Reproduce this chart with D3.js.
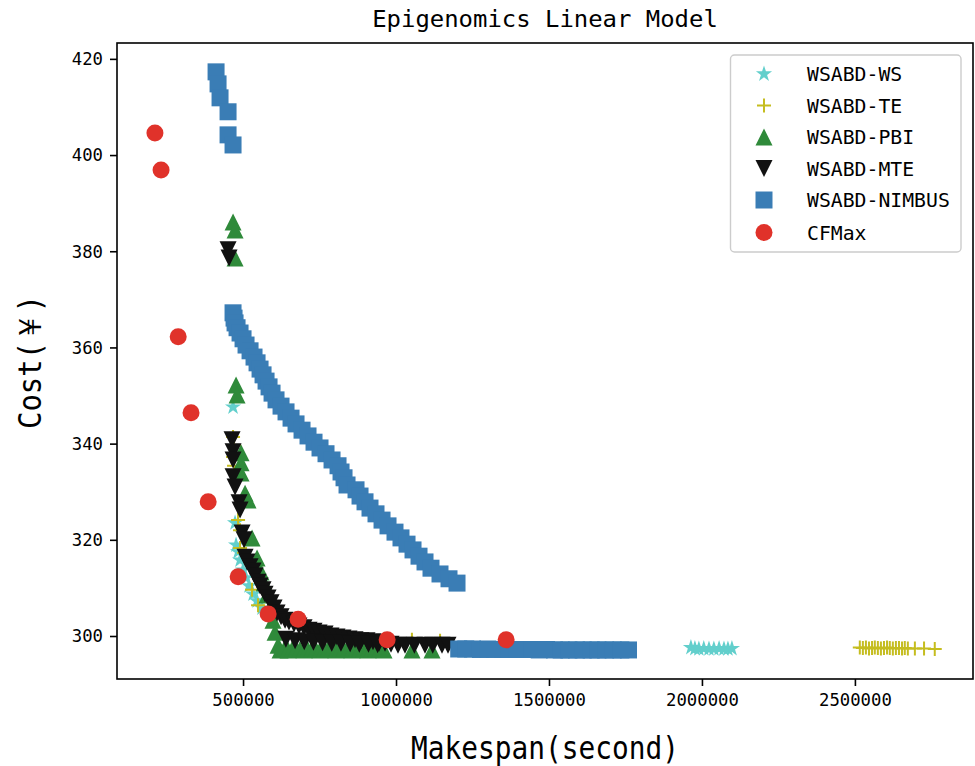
<!DOCTYPE html>
<html>
<head>
<meta charset="utf-8">
<script src="https://cdn.jsdelivr.net/npm/d3@7"></script>
<style>
  body { margin: 0; background: #fff; }
  svg { display: block; }
  text { font-family: "DejaVu Sans Mono", monospace; fill: #000; }
</style>
</head>
<body>
<div id="chart"></div>
<script>
// ---- data ----
const xTicks = [500000, 1000000, 1500000, 2000000, 2500000];
const yTicks = [300, 320, 340, 360, 380, 400, 420];

const wsMakespan = [467300, 473900, 477100, 483700, 490200, 500000, 509800, 519600, 532700, 545800, 562100,
    1964000, 1977000, 1990000, 2006000, 2023000, 2039000, 2056000, 2072000, 2085000, 2098000];
const wsCost = [347.6, 323.5, 318.9, 317.5, 315.8, 313.7, 312.1, 310.4, 308.7, 307.3, 305.8,
    297.6, 297.4, 297.3, 297.4, 297.3, 297.3, 297.4, 297.3, 297.3, 297.4];

const teMakespan = [467300, 470600, 467300, 470600, 483700, 490200, 490200, 503300, 529400, 549000, 637300, 1052000, 1144000,
    2516000, 2526000, 2536000, 2546000, 2556000, 2565000, 2575000, 2585000, 2595000, 2605000, 2614000,
    2624000, 2634000, 2644000, 2654000, 2663000, 2673000, 2696000, 2726000, 2761000];
const teCost = [341.4, 339.7, 337.2, 335.4, 324.1, 322.0, 318.3, 317.3, 309.6, 306.4, 299.6, 299.2, 299.0,
    297.6, 297.5, 297.6, 297.4, 297.5, 297.6, 297.5, 297.4, 297.5, 297.6, 297.5,
    297.4, 297.5, 297.5, 297.4, 297.5, 297.4, 297.4, 297.4, 297.3];

const pbiMakespan = [467300, 473900, 473900, 477100, 480400, 493500, 493500, 493500, 506500, 516300, 529400, 545800,
    558800, 568600, 578400, 588200, 598000, 604600, 614400, 620900, 634000, 647100, 660000, 673200, 686000,
    699400, 712000, 725500, 738000, 751600, 765000, 777800, 791000, 803900, 817000, 830100, 843000, 856200,
    869000, 882400, 895000, 908500, 921000, 934600, 947000, 960800, 1052300, 1117700];
const pbiCost = [386.1, 384.4, 378.6, 352.2, 350.1, 338.1, 336.0, 333.9, 329.7, 328.3, 320.4, 316.2,
    313.3, 311.0, 308.5, 305.8, 303.3, 300.8, 298.1, 297.1, 297.2, 297.1, 297.2, 297.3, 297.2,
    297.1, 297.2, 297.3, 297.2, 297.1, 297.2, 297.3, 297.2, 297.1, 297.2, 297.3, 297.2, 297.1,
    297.2, 297.3, 297.2, 297.1, 297.2, 297.3, 297.2, 297.1, 297.1, 297.1];

const mteMakespan = [451000, 454300, 464100, 467300, 467300, 467300, 473900, 486900, 490200, 496700, 503300, 506500,
    513100, 522900, 532700, 539200, 549000, 555600, 565400, 571900, 581700, 591500, 601300, 611100, 624200,
    637300, 650300, 666700, 683000, 699400, 715700, 732000, 748400, 768000, 787600, 807200, 826800, 846400,
    866000, 885600, 905200, 924800, 944500, 964100, 983700, 1006500, 1029400, 1060000, 1094800, 1120000, 1150300, 1170000,
    640000, 670000, 700000, 730000, 760000, 790000, 820000, 850000, 880000, 910000, 940000];
const mteCost = [380.3, 378.6, 340.8, 338.3, 336.6, 333.1, 331.0, 327.7, 326.2, 321.4, 320.0, 316.4,
    315.4, 314.4, 313.5, 312.5, 311.2, 310.4, 309.6, 308.7, 307.9, 306.9, 305.8, 304.8, 304.0,
    303.3, 302.9, 302.5, 302.1, 301.7, 301.2, 301.0, 300.6, 300.4, 300.0, 299.8, 299.6, 299.4,
    299.2, 299.0, 299.0, 298.8, 298.5, 298.5, 298.3, 298.1, 298.1, 298.1, 298.1, 298.1, 298.1, 298.1,
    299.3, 299.0, 298.8, 298.7, 298.6, 298.5, 298.5, 298.4, 298.3, 298.3, 298.2];

const nimbusMakespan = [411800, 418300, 424800, 451000, 451000, 467300,
    467300, 470600, 473900, 480400, 490200, 500000, 509800, 522900, 535900, 545800, 555600, 565400, 575200,
    585000, 594800, 607800, 624200, 640500, 656900, 673200, 692800, 712400, 732000, 751600, 771200, 790900,
    810500, 820300, 830100, 839900, 869300, 882400, 898700, 915000, 934600, 954300, 973900, 996700, 1016300,
    1036000, 1055600, 1075200, 1094800, 1114400, 1143800, 1173200, 1199400,
    1205000, 1228000, 1250000, 1276000, 1300000, 1322000, 1348000, 1370000, 1395000, 1420000, 1445000, 1468000,
    1492000, 1518000, 1540000, 1565000, 1590000, 1612000, 1638000, 1660000, 1685000, 1710000, 1735000, 1760000];
const nimbusCost = [417.3, 414.8, 411.9, 409.0, 404.2, 402.1,
    367.2, 366.1, 365.1, 364.1, 363.0, 361.8, 360.5, 359.3, 358.0, 356.8, 355.5, 354.3, 353.0,
    351.8, 350.5, 349.1, 347.8, 346.6, 345.3, 344.1, 342.8, 341.6, 340.3, 339.1, 337.9, 336.6,
    335.4, 334.1, 332.9, 331.4, 330.4, 329.1, 327.9, 326.6, 325.4, 324.1, 322.9, 321.6, 320.4,
    319.1, 317.9, 316.6, 315.4, 314.1, 312.9, 311.9, 311.0,
    297.3, 297.3, 297.3, 297.2, 297.3, 297.2, 297.2, 297.2, 297.2, 297.2, 297.2, 297.1,
    297.2, 297.1, 297.1, 297.1, 297.1, 297.1, 297.1, 297.1, 297.1, 297.1, 297.1, 297.1];

const cfmaxMakespan = [212000, 232000, 288000, 330000, 386000, 484000, 582000, 680000, 971000, 1360000];
const cfmaxCost = [404.6, 396.9, 362.2, 346.4, 327.9, 312.3, 304.6, 303.5, 299.2, 299.2];

// ---- marker shapes (matplotlib look) ----
const shapes = {
    circle: { draw(ctx, size) { const r = Math.sqrt(size) / 2; ctx.moveTo(r, 0); ctx.arc(0, 0, r, 0, 2 * Math.PI); } },
    square: { draw(ctx, size) { const h = Math.sqrt(size) / 2; ctx.rect(-h, -h, 2 * h, 2 * h); } },
    triUp: { draw(ctx, size) { const h = Math.sqrt(size) / 2; ctx.moveTo(0, -h); ctx.lineTo(h, h); ctx.lineTo(-h, h); ctx.closePath(); } },
    triDown: { draw(ctx, size) { const h = Math.sqrt(size) / 2; ctx.moveTo(0, h); ctx.lineTo(h, -h); ctx.lineTo(-h, -h); ctx.closePath(); } },
    star: { draw(ctx, size) {
        const R = Math.sqrt(size) / 2, r = R * 0.381966;
        for (let i = 0; i < 10; i++) {
            const a = -Math.PI / 2 + i * Math.PI / 5;
            const rad = i % 2 ? r : R;
            if (i === 0) ctx.moveTo(rad * Math.cos(a), rad * Math.sin(a));
            else ctx.lineTo(rad * Math.cos(a), rad * Math.sin(a));
        }
        ctx.closePath();
    } },
    plus: { draw(ctx, size) { const h = Math.sqrt(size) / 2; ctx.moveTo(-h, 0); ctx.lineTo(h, 0); ctx.moveTo(0, -h); ctx.lineTo(0, h); } }
};

const series = [
    { name: 'WSABD-WS', color: '#62cfcc', shape: 'star', size: 17, xs: wsMakespan, ys: wsCost },
    { name: 'WSABD-TE', color: '#c5bd1f', shape: 'plus', size: 14, xs: teMakespan, ys: teCost, line: true },
    { name: 'WSABD-PBI', color: '#2f8a3a', shape: 'triUp', size: 17, xs: pbiMakespan, ys: pbiCost },
    { name: 'WSABD-MTE', color: '#111111', shape: 'triDown', size: 17, xs: mteMakespan, ys: mteCost },
    { name: 'WSABD-NIMBUS', color: '#3a7db5', shape: 'square', size: 17, xs: nimbusMakespan, ys: nimbusCost },
    { name: 'CFMax', color: '#e0322a', shape: 'circle', size: 17, xs: cfmaxMakespan, ys: cfmaxCost }
];

// ---- layout ----
const W = 975, H = 766;
const plotL = 117, plotR = 973, plotT = 43, plotB = 679;

const svg = d3.select('#chart').append('svg')
    .attr('width', W)
    .attr('height', H);

svg.append('rect').attr('width', W).attr('height', H).attr('fill', '#fff');

const x = d3.scaleLinear().domain([88000, 2886000]).range([plotL, plotR]);
const y = d3.scaleLinear().domain([291.06, 423.3]).range([plotB, plotT]);

// squeeze monospace text to the narrow SimHei-like widths
function fit(sel, charW) {
    sel.each(function () {
        const t = d3.select(this);
        let n = 0;
        for (const ch of t.text()) n += ch.charCodeAt(0) > 0x2000 ? 2 : 1;
        t.attr('textLength', n * charW).attr('lengthAdjust', 'spacingAndGlyphs');
    });
}

// markers
const plot = svg.append('g');
series.forEach(s => {
    const sym = d3.symbol().type(shapes[s.shape]).size(s.size * s.size);
    plot.append('g')
        .selectAll('path')
        .data(s.xs.map((v, i) => [v, s.ys[i]]))
        .enter()
        .append('path')
        .attr('transform', d => `translate(${x(d[0])},${y(d[1])})`)
        .attr('d', sym)
        .attr('fill', s.line ? 'none' : s.color)
        .attr('stroke', s.line ? s.color : 'none')
        .attr('stroke-width', s.line ? 2 : 0);
});

// axes
const xAxis = svg.append('g')
    .attr('transform', `translate(0,${plotB})`)
    .call(d3.axisBottom(x).tickValues(xTicks).tickSize(7).tickPadding(7).tickFormat(d3.format('d')));
const yAxis = svg.append('g')
    .attr('transform', `translate(${plotL},0)`)
    .call(d3.axisLeft(y).tickValues(yTicks).tickSize(7).tickPadding(7));

[xAxis, yAxis].forEach(g => {
    g.select('.domain').remove();
    g.selectAll('line').attr('stroke', '#000').attr('stroke-width', 1.6);
    g.attr('font-family', '"DejaVu Sans Mono", monospace').attr('font-size', 18.5);
    g.selectAll('text').attr('fill', '#000').call(fit, 10.4);
});

svg.append('rect')
    .attr('x', plotL).attr('y', plotT)
    .attr('width', plotR - plotL).attr('height', plotB - plotT)
    .attr('fill', 'none')
    .attr('stroke', '#000')
    .attr('stroke-width', 1.6);

// title and axis labels
svg.append('text')
    .attr('x', (plotL + plotR) / 2).attr('y', 27)
    .attr('text-anchor', 'middle')
    .attr('font-size', 23.5)
    .text('Epigenomics Linear Model')
    .call(fit, 14.4);

svg.append('text')
    .attr('x', (plotL + plotR) / 2).attr('y', 759)
    .attr('text-anchor', 'middle')
    .attr('font-size', 31.5)
    .text('Makespan(second)')
    .call(fit, 16.75);

svg.append('text')
    .attr('transform', 'translate(41,362) rotate(-90)')
    .attr('text-anchor', 'middle')
    .attr('font-size', 31.5)
    .text('Cost(￥)')
    .call(fit, 16.75);

// legend
const legend = svg.append('g');
legend.append('rect')
    .attr('x', 730.5).attr('y', 55)
    .attr('width', 230.5).attr('height', 197)
    .attr('rx', 4)
    .attr('fill', 'rgba(255,255,255,0.8)')
    .attr('stroke', '#cccccc')
    .attr('stroke-width', 1.4);

const rowY = [74, 105.5, 137, 168.5, 200, 232.5];
series.forEach((s, i) => {
    const sym = d3.symbol().type(shapes[s.shape]).size(s.size * s.size);
    legend.append('path')
        .attr('transform', `translate(764,${rowY[i]})`)
        .attr('d', sym)
        .attr('fill', s.line ? 'none' : s.color)
        .attr('stroke', s.line ? s.color : 'none')
        .attr('stroke-width', s.line ? 2 : 0);
    legend.append('text')
        .attr('x', 807).attr('y', rowY[i] + 7)
        .attr('font-size', 19.5)
        .text(s.name)
        .call(fit, 11.9);
});
</script>
</body>
</html>
